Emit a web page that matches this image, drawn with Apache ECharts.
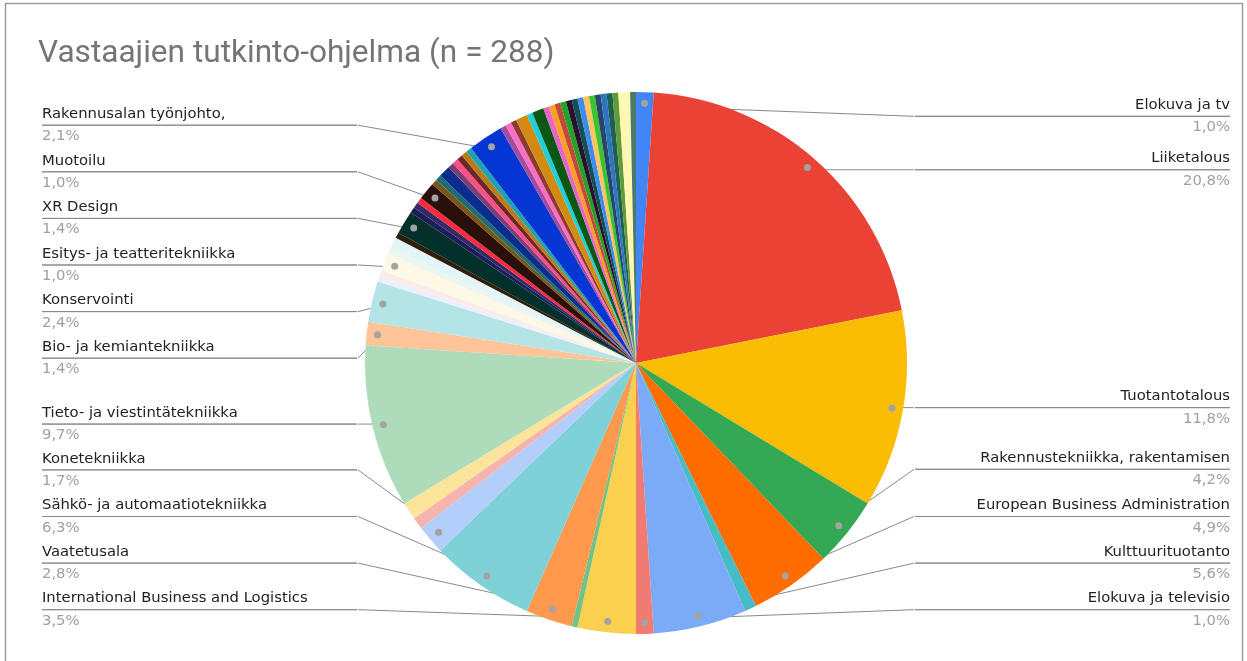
<!DOCTYPE html>
<html>
<head>
<meta charset="utf-8">
<script src="https://cdn.jsdelivr.net/npm/echarts@6/dist/echarts.min.js"></script>
<style>
html,body{margin:0;padding:0;background:#fff;}
#c{width:1247px;height:661px;}
</style>
</head>
<body>
<div id="c"></div>
<script>
const titleText = 'Vastaajien tutkinto-ohjelma (n = 288)';

const names = [
  'Elokuva ja tv', 'Liiketalous', 'Tuotantotalous', 'Rakennustekniikka, rakentamisen',
  'European Business Administration', 'Muu ohjelma 1', 'Kulttuurituotanto', 'Elokuva ja televisio',
  'International Business and Logistics', 'Muu ohjelma 2', 'Vaatetusala', 'Sähkö- ja automaatiotekniikka',
  'Konetekniikka', 'Muu ohjelma 3', 'Muu ohjelma 4', 'Tieto- ja viestintätekniikka',
  'Bio- ja kemiantekniikka', 'Konservointi', 'Muu ohjelma 5', 'Muu ohjelma 6',
  'Esitys- ja teatteritekniikka', 'Muu ohjelma 7', 'Muu ohjelma 8', 'Muu ohjelma 9',
  'XR Design', 'Muu ohjelma 10', 'Muu ohjelma 11', 'Muu ohjelma 12',
  'Muotoilu', 'Muu ohjelma 13', 'Muu ohjelma 14', 'Muu ohjelma 15',
  'Muu ohjelma 16', 'Muu ohjelma 17', 'Muu ohjelma 18', 'Muu ohjelma 19',
  'Muu ohjelma 20', 'Rakennusalan työnjohto,', 'Muu ohjelma 21', 'Muu ohjelma 22',
  'Muu ohjelma 23', 'Muu ohjelma 24', 'Muu ohjelma 25', 'Muu ohjelma 26',
  'Muu ohjelma 27', 'Muu ohjelma 28', 'Muu ohjelma 29', 'Muu ohjelma 30',
  'Muu ohjelma 31', 'Muu ohjelma 32', 'Muu ohjelma 33', 'Muu ohjelma 34',
  'Muu ohjelma 35', 'Muu ohjelma 36', 'Muu ohjelma 37', 'Muu ohjelma 38',
  'Muu ohjelma 39', 'Muu ohjelma 40', 'Muu ohjelma 41'
];

// respondents per programme (n = 288)
const values = [
  3, 60, 34, 12,
  14, 2, 16, 3,
  10, 1, 8, 18,
  5, 2, 3, 28,
  4, 7, 1, 1,
  3, 1, 2, 1,
  4, 1, 1, 1,
  3, 1, 1, 2,
  1, 1, 1, 1,
  1, 6, 1, 1,
  1, 2, 1, 2,
  1, 1, 1, 1,
  1, 1, 1, 1,
  1, 1, 1, 1,
  1, 2, 1
];

const colors = [
  '#4285F4', '#EA4335', '#FBBC04', '#34A853',
  '#FF6D01', '#46BDC6', '#7BAAF7', '#F07B72',
  '#FCD04F', '#71C287', '#FF994D', '#7ED1D7',
  '#B3CEFB', '#F7B4AE', '#FDE49B', '#AEDCBA',
  '#FFC599', '#B5E4E7', '#ECF0FD', '#FDEBEA',
  '#FEF8E6', '#EAF6EE', '#E4F5F7', '#2E1E0A',
  '#04302A', '#1A1F5C', '#332A66', '#FF2A3D',
  '#2A100B', '#7A5514', '#1E6D72', '#0C2C8E',
  '#7D3E75', '#FF4F88', '#6E2626', '#B97B17',
  '#1FA2B3', '#0535D2', '#A24E9C', '#FF6EC4',
  '#8C3B2E', '#D28A12', '#1FCFDC', '#0B5715',
  '#E566C6', '#FF9E22', '#C24A3B', '#22A527',
  '#2C1030', '#134F54', '#3B8BF2', '#FFC45F',
  '#3BC432', '#28466B', '#2E76C2', '#1E6052',
  '#5F9C38', '#FFF7B2', '#4A7A6A'
];

// labelled slices, grouped for the label layout (each group is laid out on its own)
const labelGroupA = [
  'Elokuva ja tv', 'Liiketalous',
  'Rakennusalan työnjohto,', 'Muotoilu', 'XR Design', 'Esitys- ja teatteritekniikka',
  'Konservointi', 'Bio- ja kemiantekniikka', 'Konetekniikka', 'Sähkö- ja automaatiotekniikka',
  'Vaatetusala', 'International Business and Logistics'
];
const labelGroupB = ['Tuotantotalous', 'Tieto- ja viestintätekniikka'];
const labelGroupC = [
  'Rakennustekniikka, rakentamisen', 'European Business Administration',
  'Kulttuurituotanto', 'Elokuva ja televisio'
];
// extra leader length for a few labels (layout setting, not data)
const leaderLength = {
  'Rakennusalan työnjohto,': 29, 'Muotoilu': 46, 'XR Design': 25, 'Esitys- ja teatteritekniikka': 8
};

const total = values.reduce((a, b) => a + b, 0);
const pct = v => (v / total * 100).toFixed(1).replace('.', ',') + '%';
const FONT = 'DejaVu Sans';
const allLabelled = labelGroupA.concat(labelGroupB, labelGroupC);

const layoutBox = { left: 42, right: 17, top: 93, bottom: 28, center: ['50%', '50%'] };

const pieData = names.map((n, i) => ({ name: n, value: values[i], itemStyle: { color: colors[i] } }));

function labelSeries(group) {
  const data = names.map((n, i) => {
    const show = group.indexOf(n) >= 0;
    return {
      name: n, value: values[i], label: { show },
      labelLine: { show, length: leaderLength[n] || 0 }
    };
  });
  return Object.assign({
    type: 'pie', radius: 257, startAngle: 90, clockwise: true, silent: true,
    data: data,
    avoidLabelOverlap: true,
    itemStyle: { color: 'rgba(0,0,0,0)', borderWidth: 0 },
    label: {
      show: true, position: 'outside', alignTo: 'edge', edgeDistance: 0,
      distanceToLabelLine: 0, width: 315, padding: 0,
      backgroundColor: 'rgba(255,255,255,0)',
      formatter: p => '{n|' + p.name + '}\n{hr|}\n{p|' + pct(p.value) + '}',
      rich: {
        n: { fontFamily: FONT, fontSize: 14.8, color: '#222222', lineHeight: 22.3 },
        hr: { borderColor: '#8a8a8a', borderWidth: 1, width: '100%', height: 0, lineHeight: 0 },
        p: { fontFamily: FONT, fontSize: 14.8, color: '#a0a0a0', lineHeight: 22.3 }
      }
    },
    labelLine: {
      show: true, length: 0, length2: 0, minTurnAngle: 180, maxSurfaceAngle: 180,
      lineStyle: { color: '#8a8a8a', width: 1 }
    }
  }, layoutBox);
}

const dotData = names.map((n, i) => ({ name: n, value: values[i], label: { show: allLabelled.indexOf(n) >= 0 } }));

const chart = echarts.init(document.getElementById('c'), null, { renderer: 'canvas' });
chart.setOption({
  animation: false,
  backgroundColor: '#ffffff',
  title: {
    text: titleText, left: 38, top: 38, padding: 0,
    textStyle: { fontFamily: 'Roboto', fontSize: 31.6, fontWeight: 'normal', color: '#757575' }
  },
  graphic: [{
    type: 'rect', silent: true,
    shape: { x: 5.5, y: 3.5, width: 1237, height: 700 },
    style: { fill: 'none', stroke: '#a0a0a0', lineWidth: 1.5 }
  }],
  series: [
    Object.assign({
      type: 'pie', radius: 271, startAngle: 90, clockwise: true, silent: true,
      data: pieData,
      itemStyle: { borderWidth: 0 },
      label: { show: false }, labelLine: { show: false }
    }, layoutBox),
    labelSeries(labelGroupA),
    labelSeries(labelGroupB),
    labelSeries(labelGroupC),
    Object.assign({
      type: 'pie', radius: [250, 264], startAngle: 90, clockwise: true, silent: true,
      data: dotData,
      itemStyle: { color: 'rgba(0,0,0,0)', borderWidth: 0 },
      label: {
        show: true, position: 'inside', formatter: '{d|}',
        rich: { d: { width: 7, height: 7, borderRadius: 3.5, backgroundColor: '#a3a3a3' } }
      },
      labelLine: { show: false }
    }, layoutBox)
  ]
});
</script>
</body>
</html>
